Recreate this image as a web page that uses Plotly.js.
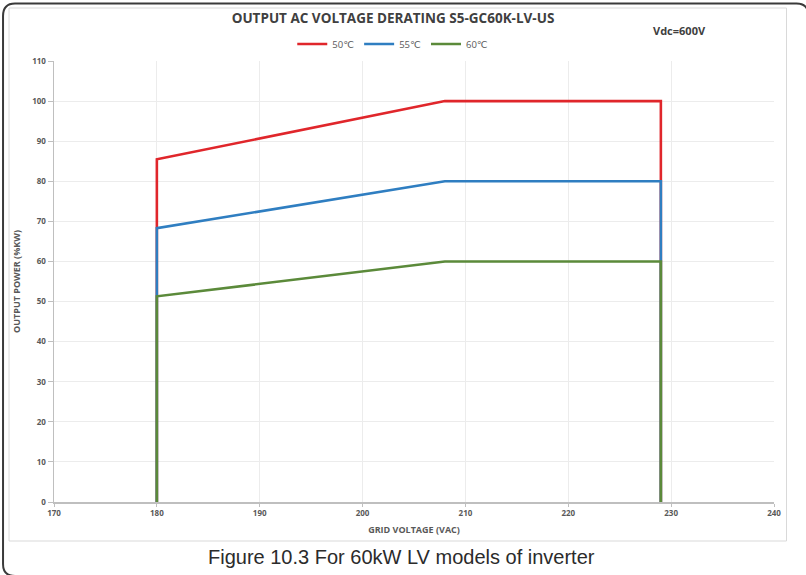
<!DOCTYPE html>
<html>
<head>
<meta charset="utf-8">
<script src="https://cdn.plot.ly/plotly-3.0.1.min.js"></script>
<style>html,body{margin:0;padding:0;background:#fff;}#chart{width:806px;height:575px;}</style>
</head>
<body>
<div id="chart"></div>
<script>
// Data
const seriesNames = ["50℃", "55℃", "60℃"];
const seriesColors = ["#e0262b", "#2f7ec1", "#5b8a3a"];
const gridVoltage = [180, 180, 208, 229, 229];
const power50 = [0, 85.5, 100, 100, 0];
const power55 = [0, 68.3, 80, 80, 0];
const power60 = [0, 51.3, 60, 60, 0];
const xTicks = [170, 180, 190, 200, 210, 220, 230, 240];
const yTicks = [0, 10, 20, 30, 40, 50, 60, 70, 80, 90, 100, 110];

const W = 806, H = 575;
const M = {l: 54, r: 31.5, t: 61, b: 73};
const pw = W - M.l - M.r, ph = H - M.t - M.b;
const px = x => (x - M.l) / pw;
const py = y => (H - M.b - y) / ph;

const allY = [power50, power55, power60];
const traces = allY.map((ys, i) => ({
  x: gridVoltage, y: ys, type: 'scatter', mode: 'lines', name: seriesNames[i],
  line: {color: seriesColors[i], width: 2.6}, cliponaxis: false
}));

const outerPath = `M ${px(15)} ${py(576)} Q ${px(3)} ${py(576)} ${px(3)} ${py(564)} L ${px(3)} ${py(16)} Q ${px(3)} ${py(3.5)} ${px(15)} ${py(3.5)} L ${px(797)} ${py(3.5)} Q ${px(809)} ${py(3.5)} ${px(809)} ${py(16)}`;

const layout = {
  width: W, height: H,
  margin: {l: M.l, r: M.r, t: M.t, b: M.b},
  paper_bgcolor: '#fff', plot_bgcolor: '#fff',
  font: {family: '"Open Sans", "DejaVu Sans", sans-serif', color: '#595959'},
  title: {text: '<b>OUTPUT AC VOLTAGE DERATING S5-GC60K-LV-US</b>', x: 393/W, xanchor: 'center', y: 1 - 18/H, yanchor: 'middle',
          font: {size: 13.5, color: '#404040', family: '"Open Sans", sans-serif'}},
  showlegend: true,
  legend: {orientation: 'h', x: px(393), xanchor: 'center', y: py(44), yanchor: 'middle',
           font: {size: 9.5, color: '#595959'}, itemwidth: 30, tracegroupgap: 0, bgcolor: 'rgba(0,0,0,0)'},
  xaxis: {range: [170, 240], tickvals: xTicks, ticktext: xTicks.map(v => '<b>' + v + '</b>'),
          showgrid: true, gridcolor: '#ececec', gridwidth: 1, zeroline: false,
          showline: true, linecolor: '#bfbfbf', linewidth: 1.5, ticks: 'outside', ticklen: 3, tickcolor: '#bfbfbf',
          tickfont: {size: 8, color: '#595959'},
          title: {text: '<b>GRID VOLTAGE (VAC)</b>', standoff: 9, font: {size: 9, color: '#595959'}}},
  yaxis: {range: [0, 110], tickvals: yTicks, ticktext: yTicks.map(v => '<b>' + v + '</b>'),
          showgrid: true, gridcolor: '#ececec', gridwidth: 1, zeroline: false,
          showline: true, linecolor: '#bfbfbf', linewidth: 1.5, ticks: 'outside', ticklen: 5, tickcolor: '#bfbfbf',
          tickfont: {size: 8, color: '#595959'},
          title: {text: '<b>OUTPUT POWER (%KW)</b>', standoff: 10, font: {size: 9, color: '#595959'}}},
  shapes: [
    {type: 'rect', xref: 'paper', yref: 'paper', x0: px(9), x1: px(787), y0: py(541), y1: py(8),
     line: {color: '#d9d9d9', width: 1}, layer: 'below'},
    {type: 'path', xref: 'paper', yref: 'paper', path: outerPath, line: {color: '#3a3a3a', width: 2}, layer: 'above'}
  ],
  annotations: [
    {xref: 'paper', yref: 'paper', x: px(680), y: py(31), text: '<b>Vdc=600V</b>', showarrow: false,
     xanchor: 'center', yanchor: 'middle', font: {size: 11, color: '#404040'}},
    {xref: 'paper', yref: 'paper', x: px(402), y: py(557), text: 'Figure 10.3 For 60kW LV models of inverter', showarrow: false,
     xanchor: 'center', yanchor: 'middle', font: {size: 20, color: '#2b2b2b', family: '"Liberation Sans", Arial, sans-serif'}}
  ]
};

Plotly.newPlot('chart', traces, layout, {displayModeBar: false, staticPlot: true});
</script>
</body>
</html>
